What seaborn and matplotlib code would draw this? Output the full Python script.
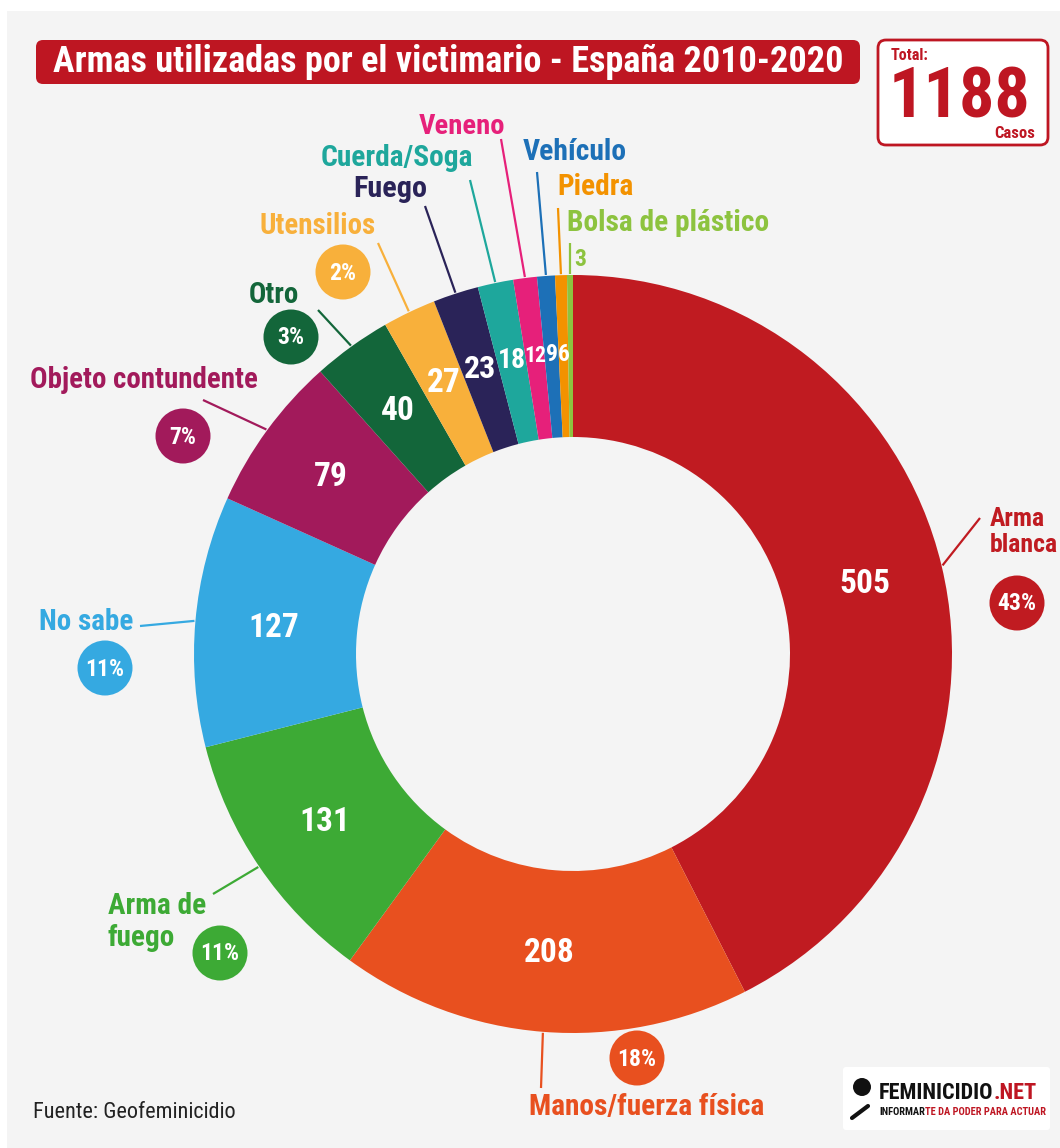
import matplotlib
matplotlib.use("Agg")
import matplotlib.pyplot as plt
from matplotlib import font_manager
from matplotlib.patches import FancyBboxPatch, Circle, Rectangle
import numpy as np
import seaborn as sns

# datos
categorias = ["Arma blanca", "Manos/fuerza física", "Arma de fuego", "No sabe",
              "Objeto contundente", "Otro", "Utensilios", "Fuego", "Cuerda/Soga",
              "Veneno", "Vehículo", "Piedra", "Bolsa de plástico"]
casos = [505, 208, 131, 127, 79, 40, 27, 23, 18, 12, 9, 6, 3]
colores = ["#c01b21", "#e8501f", "#3daa35", "#35a9e1", "#a21a5b", "#13663a",
           "#f8b03b", "#2a2358", "#1ea79c", "#e6207a", "#1d70b7", "#f39200", "#8dc33f"]
titulo = "Armas utilizadas por el victimario - España 2010-2020"
fuente = "Fuente: Geofeminicidio"
total = sum(casos)

W, H = 1060, 1148
ROJO = "#be1622"

sns.set_theme(style="white")
nombres = {f.name for f in font_manager.fontManager.ttflist}
fam = "DejaVu Sans"
for c in ["Liberation Sans Narrow", "Roboto Condensed", "Open Sans Condensed",
          "Arial Narrow", "Roboto", "Liberation Sans"]:
    if c in nombres:
        fam = c
        break
plt.rcParams["font.family"] = [fam, "DejaVu Sans"]

fig = plt.figure(figsize=(W / 100, H / 100), dpi=100, facecolor="white")
ax = fig.add_axes([0, 0, 1, 1])
ax.set_xlim(0, W)
ax.set_ylim(0, H)
rend = fig.canvas.get_renderer()


def P(x, y):
    # pixel (desde arriba) -> coordenadas de datos
    return x, H - y


def ajustar(t, ancho):
    # reduce el tamano si el texto es mas ancho que en la referencia
    w = t.get_window_extent(rend).width
    if w > ancho:
        t.set_fontsize(t.get_fontsize() * ancho / w)
    return t


# fondo gris
ax.add_patch(Rectangle(P(7, H), W - 7, H - 11, fc="#f4f4f4", ec="none", zorder=0))

# donut
cx, cy, R, r_in = 573, 654, 379, 217
etiquetas = [str(v) for v in casos[:-1]] + [""]
wedges, texts = ax.pie(casos, colors=colores, startangle=90, counterclock=False,
                       center=P(cx, cy), radius=R, labels=etiquetas,
                       labeldistance=300 / R,
                       wedgeprops=dict(width=R - r_in, edgecolor="none", linewidth=0))
ax.set_xlim(0, W)
ax.set_ylim(0, H)
tam_in = [24, 24, 24, 24, 24, 24, 24, 23, 21, 18, 18, 18, 18]
ancho_in = [58, 56, 52, 54, 36, 34, 34, 34, 28, 22, 12, 12, 12]
for t, s, a in zip(texts, tam_in, ancho_in):
    t.set(ha="center", va="center", color="white", fontweight="bold", fontsize=s)
    ajustar(t, a)

# etiquetas exteriores: (texto en px, alineacion, extremo exterior de la guia, ancho)
etiq_ext = [
    ((990, 532), "left", (980, 518), 68),
    ((647, 1107), "center", (541, 1088), 236),
    ((108, 922), "left", (213, 894), 98),
    ((133, 622), "right", (140, 626), 94),
    ((30, 380), "left", (203, 400), 228),
    ((274, 295), "center", (318, 310), 50),
    ((318, 226), "center", (378, 243), 116),
    ((390, 189), "center", (425, 206), 74),
    ((397, 158), "center", (470, 180), 152),
    ((462, 126), "center", (501, 139), 86),
    ((575, 152), "center", (537, 172), 104),
    ((557, 187), "left", (558, 208), 76),
    ((567, 223), "left", (570, 243), 202),
]
textos_ext = ["Arma\nblanca", "Manos/fuerza física", "Arma de\nfuego", "No sabe",
              "Objeto contundente", "Otro", "Utensilios", "Fuego", "Cuerda/Soga",
              "Veneno", "Vehículo", "Piedra", "Bolsa de plástico"]

for w, col, txt, (pos, ha, pout, ancho) in zip(wedges, colores, textos_ext, etiq_ext):
    th = np.deg2rad((w.theta1 + w.theta2) / 2)
    xin = w.center[0] + (R + 1) * np.cos(th)
    yin = w.center[1] + (R + 1) * np.sin(th)
    xo, yo = P(*pout)
    ax.plot([xo, xin], [yo, yin], color=col, lw=1.6, solid_capstyle="butt", zorder=3)
    t = ax.text(*P(*pos), txt, color=col, ha=ha, va="center", fontsize=22,
                fontweight="bold", linespacing=1.15, zorder=4)
    ajustar(t, ancho)

# valor de la porcion mas pequena
ax.text(*P(580, 259), str(casos[-1]), color=colores[-1], ha="center", va="center",
        fontsize=17, fontweight="bold")

# circulos de porcentaje
pos_pct = [(1017, 603), (637, 1058), (220, 953), (105, 668), (183, 436), (291, 337), (343, 272)]
for v, col, (px, py) in zip(casos, colores, pos_pct):
    ax.add_patch(Circle(P(px, py), 27.5, fc=col, ec="none", zorder=4))
    t = ax.text(*P(px, py + 1), f"{round(100 * v / total)}%", color="white", ha="center",
                va="center", fontsize=17, fontweight="bold", zorder=5)
    ajustar(t, 42)

# titulo
ax.add_patch(FancyBboxPatch(P(36, 84), 824, 44, boxstyle="round,pad=0,rounding_size=7",
                            fc=ROJO, ec="none", zorder=2))
t = ax.text(*P(448, 62), titulo, color="white", ha="center", va="center", fontsize=26,
            fontweight="bold", zorder=3)
ajustar(t, 806)

# total
ax.add_patch(FancyBboxPatch(P(878, 145), 170, 105, boxstyle="round,pad=0,rounding_size=8",
                            fc="white", ec=ROJO, lw=2, zorder=2))
t = ax.text(*P(891, 55), "Total:", color=ROJO, ha="left", va="center", fontsize=12,
            fontweight="bold", zorder=3)
ajustar(t, 38)
t = ax.text(*P(960, 98), str(total), color=ROJO, ha="center", va="center", fontsize=60,
            fontweight="bold", zorder=3)
ajustar(t, 142)
t = ax.text(*P(1035, 133), "Casos", color=ROJO, ha="right", va="center", fontsize=12,
            fontweight="bold", zorder=3)
ajustar(t, 42)

# fuente
t = ax.text(*P(33, 1112), fuente, color="#222222", ha="left", va="center", fontsize=16)
ajustar(t, 208)

# logo
ax.add_patch(FancyBboxPatch(P(843, 1130), 207, 63, boxstyle="round,pad=0,rounding_size=3",
                            fc="white", ec="none", zorder=2))
t1 = ax.text(*P(879, 1093), "FEMINICIDIO", color="#111111", ha="left", va="center",
             fontsize=16, fontweight="bold", zorder=3)
ajustar(t1, 118)
ax.annotate(".NET", xy=(1, 0), xycoords=t1, color=ROJO, ha="left", va="bottom",
            fontsize=t1.get_fontsize(), fontweight="bold", zorder=3)
t2 = ax.text(*P(879, 1112), "INFORMAR", color="#111111", ha="left", va="center",
             fontsize=7.5, fontweight="bold", zorder=3)
ajustar(t2, 46)
ax.annotate("TE DA PODER PARA ACTUAR", xy=(1, 0), xycoords=t2, color=ROJO, ha="left",
            va="bottom", fontsize=t2.get_fontsize(), fontweight="bold", zorder=3)
ax.add_patch(Circle(P(862, 1087), 9, fc="#111111", ec="none", zorder=3))
ax.plot([P(852, 1118)[0], P(868, 1106)[0]], [P(852, 1118)[1], P(868, 1106)[1]],
        color="#111111", lw=3, zorder=3)

ax.set_xlim(0, W)
ax.set_ylim(0, H)
ax.set_aspect("auto")
ax.axis("off")

fig.savefig("out.png", dpi=100, facecolor="white")
